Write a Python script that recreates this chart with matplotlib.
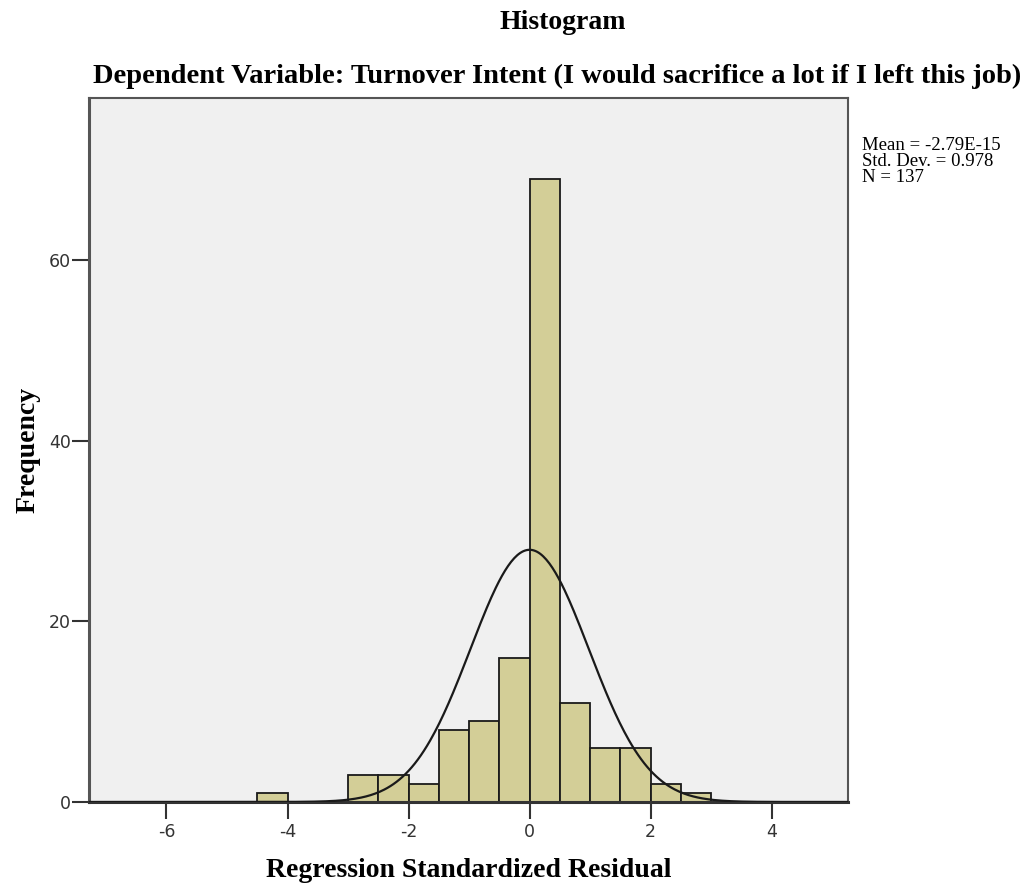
import numpy as np
import matplotlib
matplotlib.use('Agg')
import matplotlib.pyplot as plt

# histogram bins (left edges, width 0.5) and frequencies
bin_lefts = [-4.5, -3.0, -2.5, -2.0, -1.5, -1.0, -0.5, 0.0, 0.5, 1.0, 1.5, 2.0, 2.5]
counts = [1, 3, 3, 2, 8, 9, 16, 69, 11, 6, 6, 2, 1]
bin_width = 0.5

mean = -2.79e-15
std_dev = 0.978
n_obs = 137

x_ticks = [-6, -4, -2, 0, 2, 4]
y_ticks = [0, 20, 40, 60]
stat_lines = ['Mean = -2.79E-15', 'Std. Dev. = 0.978', 'N = 137']

serif = ['Liberation Serif', 'DejaVu Serif']
plt.rcParams['axes.unicode_minus'] = False

W, H = 1031, 884
fig = plt.figure(figsize=(W / 100, H / 100), dpi=100)
ax = fig.add_axes([0.0863, 0.0928, 0.7362, 0.7963])
ax.set_facecolor('#f0f0f0')

ax.bar(bin_lefts, counts, width=bin_width, align='edge', color='#d3ce97',
       edgecolor='#1a1a1a', linewidth=1.3, zorder=2)

xs = np.linspace(-7.3, 5.3, 500)
curve = n_obs * bin_width * np.exp(-0.5 * ((xs - mean) / std_dev) ** 2) / (std_dev * np.sqrt(2 * np.pi))
ax.plot(xs, curve, color='#1a1a1a', linewidth=1.6, zorder=3)

ax.set_xlim(-7.28, 5.26)
ax.set_ylim(0, 78)
ax.set_xticks(x_ticks)
ax.set_yticks(y_ticks)
ax.tick_params(axis='both', direction='out', length=12, width=1.5, color='#333333',
               labelcolor='#333333', labelsize=12.5)
ax.tick_params(axis='y', pad=1)
for lab in ax.get_xticklabels() + ax.get_yticklabels():
    lab.set_family('DejaVu Sans')

for side in ['left', 'bottom', 'top', 'right']:
    ax.spines[side].set_color('#555555')
    ax.spines[side].set_linewidth(1.5)
ax.spines['left'].set_linewidth(2.2)
ax.spines['bottom'].set_linewidth(2.2)
ax.spines['bottom'].set_color('#333333')

ax.set_xlabel('Regression Standardized Residual', family=serif, fontweight='bold',
              fontsize=20, labelpad=12)
fig.text(28 / W, 1 - 450 / H, 'Frequency', rotation=90, ha='center', va='center',
         family=serif, fontweight='bold', fontsize=20)

fig.text(0.546, 0.974, 'Histogram', ha='center', va='center', family=serif,
         fontweight='bold', fontsize=20)
fig.text(0.540, 0.914, 'Dependent Variable: Turnover Intent (I would sacrifice a lot if I left this job)',
         ha='center', va='center', family=serif, fontweight='bold', fontsize=20.5)

for i, line in enumerate(stat_lines):
    fig.text(862 / W, 1 - (146 + 16 * i) / H, line, ha='left', va='center',
             family=serif, fontsize=13.5)

fig.savefig('out.png', dpi=100)
